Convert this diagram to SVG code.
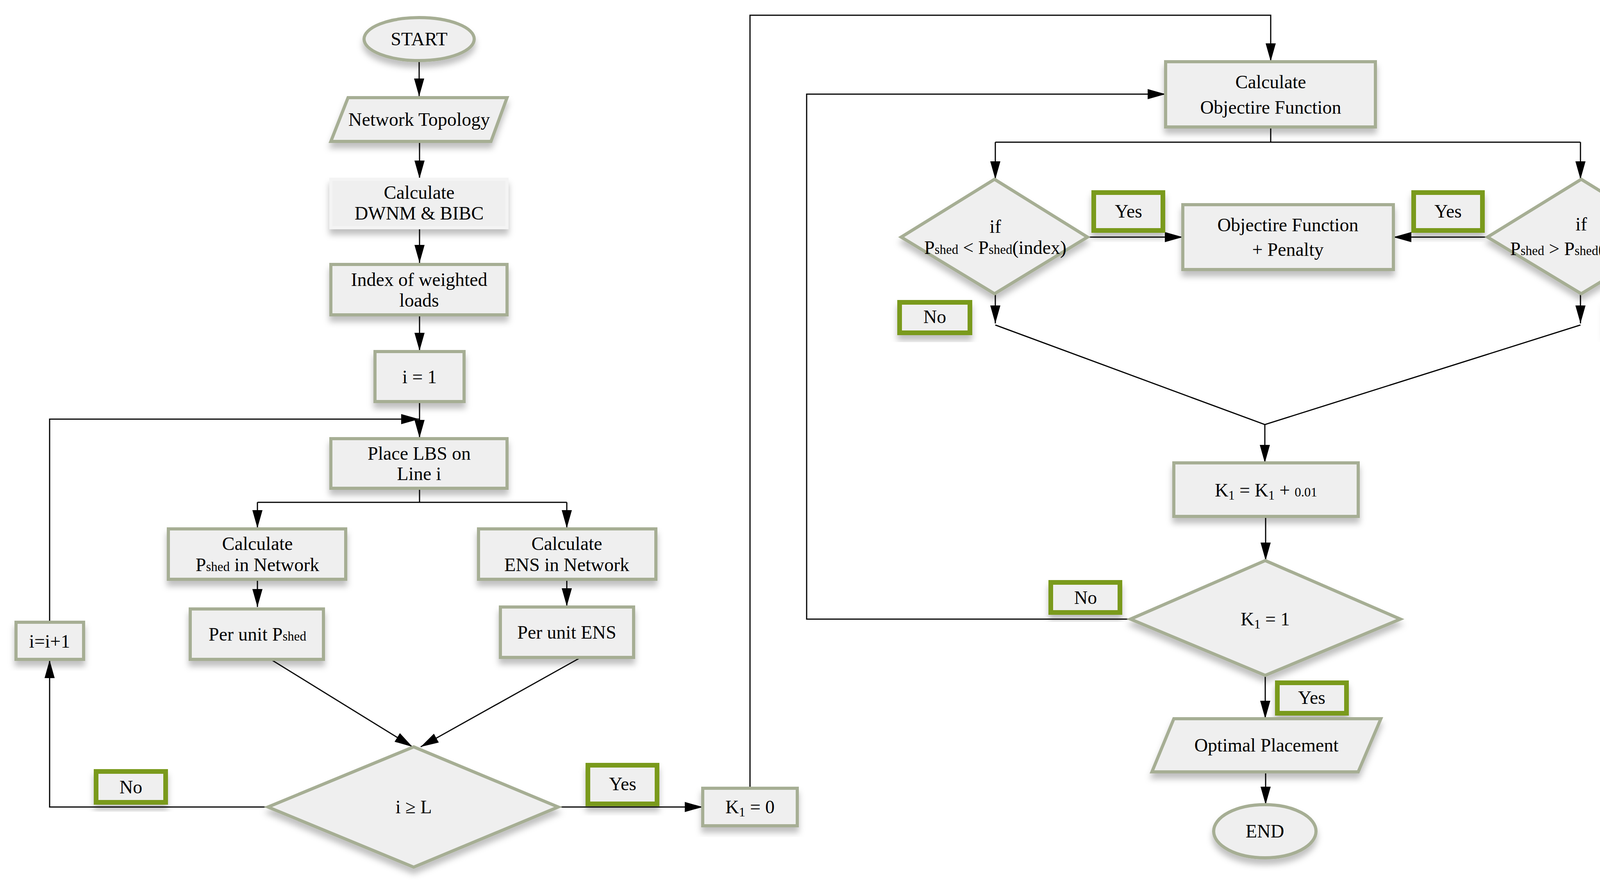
<svg xmlns="http://www.w3.org/2000/svg" width="4330" height="2258" viewBox="0 0 4330 2258">
<style>
.n{fill:#efefef;stroke:#a6ae94;stroke-width:8;filter:url(#sh)}
.lb{fill:#efefef;stroke:#7a9a1a;stroke-width:12;filter:url(#sh)}
.t{font-family:"Liberation Serif","Times New Roman",serif;font-size:48px;fill:#000;text-anchor:middle}
.c{fill:none;stroke:#000;stroke-width:3}
.s{font-size:33px}
</style>
<defs>
<filter id="sh" x="-20%" y="-20%" width="140%" height="150%"><feDropShadow dx="0" dy="14" stdDeviation="8" flood-color="#000" flood-opacity="0.25"/></filter>
<marker id="a" markerUnits="userSpaceOnUse" markerWidth="50" markerHeight="30" refX="46" refY="13" orient="auto"><path d="M0,0 L46,13 L0,26 Z" fill="#000"/></marker>
</defs>
<g id="connectors">
<path class="c" marker-end="url(#a)" d="M1073,155 V247"/>
<path class="c" marker-end="url(#a)" d="M1074,362 V457"/>
<path class="c" marker-end="url(#a)" d="M1074,583 V673"/>
<path class="c" marker-end="url(#a)" d="M1074,806 V898"/>
<path class="c" marker-end="url(#a)" d="M1074,1028 V1121"/>
<path class="c" marker-end="url(#a)" d="M127,1593 V1073 H1073"/>
<path class="c" d="M1074,1250 V1286 M659,1286 H1451"/>
<path class="c" marker-end="url(#a)" d="M659,1286 V1352"/>
<path class="c" marker-end="url(#a)" d="M1451,1286 V1352"/>
<path class="c" marker-end="url(#a)" d="M659,1483 V1554"/>
<path class="c" marker-end="url(#a)" d="M1451,1483 V1552"/>
<path class="c" marker-end="url(#a)" d="M693,1688 L1056,1912"/>
<path class="c" marker-end="url(#a)" d="M1487,1683 L1077,1912"/>
<path class="c" marker-end="url(#a)" d="M686,2066 H127 V1690"/>
<path class="c" marker-end="url(#a)" d="M1429,2066 H1799"/>
<path class="c" marker-end="url(#a)" d="M1920,2018 V39 H3253 V157"/>
<path class="c" marker-end="url(#a)" d="M2894,1585 H2065 V241 H2984"/>
<path class="c" d="M3253,325 V364 M2548,364 H4046"/>
<path class="c" marker-end="url(#a)" d="M2548,364 V459"/>
<path class="c" marker-end="url(#a)" d="M4046,364 V459"/>
<path class="c" marker-end="url(#a)" d="M2784,607 H3028"/>
<path class="c" marker-end="url(#a)" d="M3808,607 H3567"/>
<path class="c" marker-end="url(#a)" d="M2548,752 V828"/>
<path class="c" marker-end="url(#a)" d="M4046,752 V828"/>
<path class="c" d="M2548,832 L3238,1087 L4046,832"/>
<path class="c" marker-end="url(#a)" d="M3238,1087 V1185"/>
<path class="c" marker-end="url(#a)" d="M3240,1322 V1435"/>
<path class="c" marker-end="url(#a)" d="M3239,1729 V1840"/>
<path class="c" marker-end="url(#a)" d="M3240,1976 V2060"/>
</g>
<g id="start"><ellipse class="n" cx="1073" cy="100" rx="141" ry="55"/><text class="t" x="1073" y="116">START</text></g>
<g id="topology"><polygon class="n" points="891,250 1298,250 1257,362 847,362"/><text class="t" x="1073" y="322">Network Topology</text></g>
<g id="dwnm"><rect class="n" x="847" y="459" width="451" height="124" style="stroke:#f4f4f4"/><text class="t" x="1073" y="509">Calculate</text><text class="t" x="1073" y="562">DWNM &amp; BIBC</text></g>
<g id="index"><rect class="n" x="847" y="677" width="451" height="129"/><text class="t" x="1073" y="732">Index of weighted</text><text class="t" x="1073" y="785">loads</text></g>
<g id="i1"><rect class="n" x="960" y="900" width="228" height="128"/><text class="t" x="1074" y="981">i = 1</text></g>
<g id="place"><rect class="n" x="847" y="1123" width="451" height="127"/><text class="t" x="1073" y="1177">Place LBS on</text><text class="t" x="1073" y="1229">Line i</text></g>
<g id="calcP"><rect class="n" x="431" y="1354" width="454" height="129"/><text class="t" x="659" y="1408">Calculate</text><text class="t" x="659" y="1462">P<tspan class="s">shed</tspan> in Network</text></g>
<g id="calcE"><rect class="n" x="1225" y="1354" width="454" height="129"/><text class="t" x="1451" y="1408">Calculate</text><text class="t" x="1451" y="1462">ENS in Network</text></g>
<g id="puP"><rect class="n" x="487" y="1559" width="341" height="129"/><text class="t" x="659" y="1640">Per unit P<tspan class="s">shed</tspan></text></g>
<g id="puE"><rect class="n" x="1281" y="1554" width="341" height="129"/><text class="t" x="1451" y="1635">Per unit ENS</text></g>
<g id="inc"><rect class="n" x="41" y="1593" width="173" height="95"/><text class="t" x="127" y="1658">i=i+1</text></g>
<g id="dec1"><polygon class="n" points="1059,1912 1429,2066 1059,2220 686,2066"/><text class="t" x="1059" y="2082">i ≥ L</text></g>
<g id="no1"><rect class="lb" x="246" y="1975" width="178" height="79"/><text class="t" x="335" y="2031">No</text></g>
<g id="yes1"><rect class="lb" x="1505" y="1959" width="177" height="99"/><text class="t" x="1594" y="2023">Yes</text></g>
<g id="k0"><rect class="n" x="1799" y="2018" width="242" height="96"/><text class="t" x="1920" y="2082">K<tspan class="s" dy="8">1</tspan><tspan dy="-8"> = 0</tspan></text></g>
<g id="calcObj"><rect class="n" x="2984" y="158" width="537" height="167"/><text class="t" x="3253" y="226">Calculate</text><text class="t" x="3253" y="291">Objectire Function</text></g>
<g id="decL"><polygon class="n" points="2546,459 2784,607 2546,752 2307,607"/><text class="t" x="2548" y="596">if</text><text class="t" x="2548" y="650">P<tspan class="s">shed</tspan> &lt; P<tspan class="s">shed</tspan>(index)</text></g>
<g id="decR"><polygon class="n" points="4048,459 4288,607 4048,752 3808,607"/><text class="t" x="4048" y="590">if</text><text class="t" x="4048" y="653">P<tspan class="s">shed</tspan> &gt; P<tspan class="s">shed</tspan>(index)</text></g>
<g id="pen"><rect class="n" x="3028" y="524" width="539" height="166"/><text class="t" x="3297" y="592">Objectire  Function</text><text class="t" x="3297" y="655">+ Penalty</text></g>
<g id="yesL"><rect class="lb" x="2800" y="493" width="177" height="97"/><text class="t" x="2889" y="557">Yes</text></g>
<g id="yesR"><rect class="lb" x="3619" y="493" width="176" height="97"/><text class="t" x="3707" y="557">Yes</text></g>
<g id="noL"><rect class="lb" x="2303" y="774" width="180" height="78"/><text class="t" x="2393" y="827">No</text></g>
<g id="noR"><rect class="lb" x="4112" y="774" width="180" height="78"/><text class="t" x="4202" y="827">No</text></g>
<g id="kinc"><rect class="n" x="3005" y="1185" width="472" height="137"/><text class="t" x="3241" y="1271">K<tspan class="s" dy="8">1</tspan><tspan dy="-8"> = K</tspan><tspan class="s" dy="8">1</tspan><tspan dy="-8"> + </tspan><tspan class="s">0.01</tspan></text></g>
<g id="dec2"><polygon class="n" points="3239,1435 3585,1585 3239,1729 2894,1585"/><text class="t" x="3239" y="1601">K<tspan class="s" dy="8">1</tspan><tspan dy="-8"> = 1</tspan></text></g>
<g id="no2"><rect class="lb" x="2690" y="1491" width="177" height="77"/><text class="t" x="2779" y="1546">No</text></g>
<g id="yes2"><rect class="lb" x="3270" y="1748" width="177" height="78"/><text class="t" x="3358" y="1802">Yes</text></g>
<g id="opt"><polygon class="n" points="3005,1840 3535,1840 3477,1976 2949,1976"/><text class="t" x="3242" y="1924">Optimal Placement</text></g>
<g id="end"><ellipse class="n" cx="3238" cy="2128" rx="131" ry="68"/><text class="t" x="3238" y="2144">END</text></g>
</svg>
